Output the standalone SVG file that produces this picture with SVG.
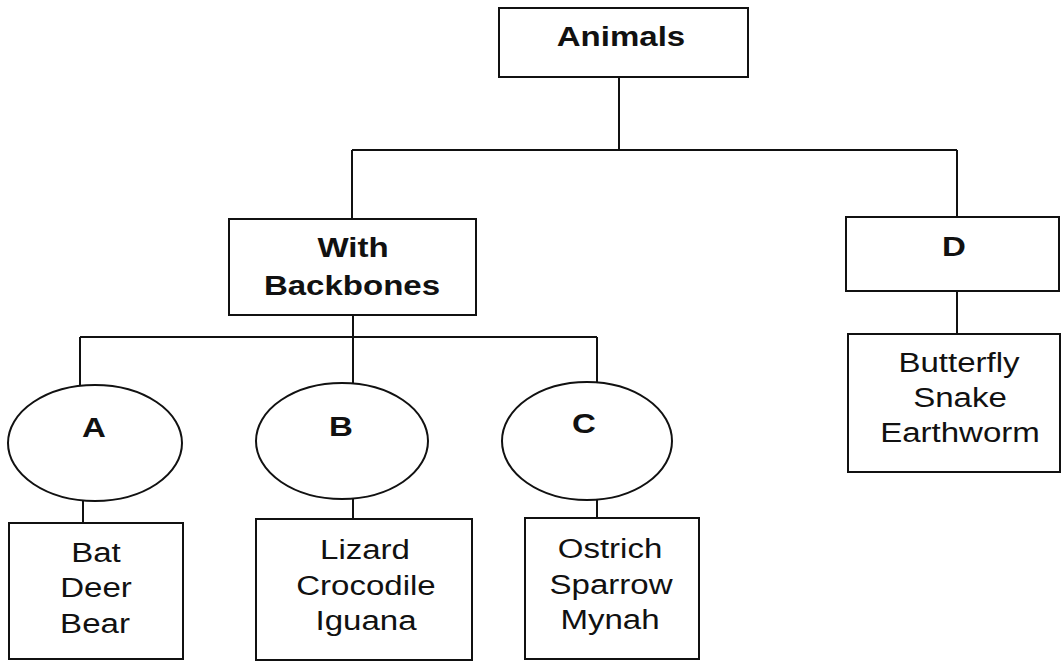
<svg xmlns="http://www.w3.org/2000/svg" width="1061" height="662" viewBox="0 0 1061 662">
<style>
.box{fill:#fff;stroke:#111;stroke-width:2}
.ln{fill:none;stroke:#111;stroke-width:2}
.b{font-family:"Liberation Sans",Arial,sans-serif;font-weight:bold;font-size:28px;fill:#111;text-anchor:middle}
.t{font-family:"Liberation Sans",Arial,sans-serif;font-size:28px;fill:#111;text-anchor:middle}
</style>
<rect width="1061" height="662" fill="#fff"/>
<g id="connectors">
<path class="ln" d="M619,77 V150 M352,150 H957 M352,150 V219 M957,150 V217"/>
<path class="ln" d="M957,291 V334"/>
<path class="ln" d="M353,315 V337 M80,337 H597 M80,337 V386 M353,337 V383 M597,337 V384"/>
<path class="ln" d="M83,501 V523 M353,499 V519 M597,500 V518"/>
</g>
<g id="animals"><rect class="box" x="499" y="8" width="249" height="69"/><text class="b" transform="matrix(1.18 0 0 1 621 46)">Animals</text></g>
<g id="backbones"><rect class="box" x="229" y="219" width="247" height="96"/><text class="b" transform="matrix(1.18 0 0 1 353 257)">With</text><text class="b" transform="matrix(1.18 0 0 1 352 295)">Backbones</text></g>
<g id="d"><rect class="box" x="846" y="217" width="213" height="74"/><text class="b" transform="matrix(1.18 0 0 1 954 256)">D</text></g>
<g id="d-list"><rect class="box" x="848" y="334" width="212" height="138"/><text class="t" transform="matrix(1.18 0 0 1 959 372)">Butterfly</text><text class="t" transform="matrix(1.18 0 0 1 960 407)">Snake</text><text class="t" transform="matrix(1.18 0 0 1 960 442)">Earthworm</text></g>
<g id="a"><ellipse class="box" cx="95" cy="443" rx="87" ry="58"/><text class="b" transform="matrix(1.18 0 0 1 94 437)">A</text></g>
<g id="b"><ellipse class="box" cx="342" cy="441" rx="86" ry="58"/><text class="b" transform="matrix(1.18 0 0 1 341 436)">B</text></g>
<g id="c"><ellipse class="box" cx="587" cy="441" rx="85" ry="59"/><text class="b" transform="matrix(1.18 0 0 1 584 433)">C</text></g>
<g id="a-list"><rect class="box" x="9" y="523" width="174" height="136"/><text class="t" transform="matrix(1.18 0 0 1 96 562)">Bat</text><text class="t" transform="matrix(1.18 0 0 1 96 597)">Deer</text><text class="t" transform="matrix(1.18 0 0 1 95 633)">Bear</text></g>
<g id="b-list"><rect class="box" x="256" y="519" width="216" height="141"/><text class="t" transform="matrix(1.18 0 0 1 365 559)">Lizard</text><text class="t" transform="matrix(1.18 0 0 1 366 595)">Crocodile</text><text class="t" transform="matrix(1.18 0 0 1 366 630)">Iguana</text></g>
<g id="c-list"><rect class="box" x="525" y="518" width="174" height="141"/><text class="t" transform="matrix(1.18 0 0 1 610 558)">Ostrich</text><text class="t" transform="matrix(1.18 0 0 1 611 594)">Sparrow</text><text class="t" transform="matrix(1.18 0 0 1 610 629)">Mynah</text></g>
</svg>
